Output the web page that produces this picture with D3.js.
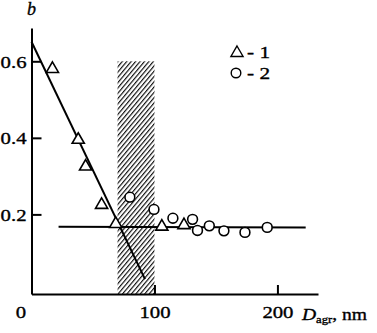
<!DOCTYPE html>
<html>
<head>
<meta charset="utf-8">
<script src="https://cdn.jsdelivr.net/npm/d3@7"></script>
<style>
  html, body { margin: 0; padding: 0; background: #fff; }
  svg { display: block; }
  text { font-family: "Liberation Serif", "Times New Roman", serif; fill: #000; stroke: #000; stroke-width: 0.35px; }
</style>
</head>
<body>
<svg id="chart" width="377" height="333"></svg>
<script>
// ---- data ----
const series1X = [17, 38, 44, 57, 68.5, 106, 124];
const series1Y = [0.58, 0.395, 0.325, 0.225, 0.175, 0.168, 0.172];
const series2X = [80, 99.6, 115, 131, 135, 144.6, 156.5, 173.6, 191.7];
const series2Y = [0.245, 0.213, 0.19, 0.187, 0.158, 0.17, 0.157, 0.153, 0.166];
const fit1X = [0, 92.3];
const fit1Y = [0.651, 0.031];
const fit2X = [22, 223];
const fit2Y = [0.168, 0.166];
const bandX = [70, 100];
const bandTop = 0.6;
const xTicks = [0, 100, 200];
const yTicks = [0.2, 0.4, 0.6];
const legendLabels = ["- 1", "- 2"];
const xDomain = [0, 233];
const yDomain = [-0.008, 0.687];

const STRETCH = 1.22;
const svg = d3.select("#chart");
const x = d3.scaleLinear().domain(xDomain).range([31.5, 318]);
const y = d3.scaleLinear().domain(yDomain).range([294, 28]);

function stretch(sel, f) {
  sel.each(function () {
    const w = this.getComputedTextLength();
    d3.select(this).attr("textLength", w * (f || STRETCH)).attr("lengthAdjust", "spacingAndGlyphs");
  });
}

// hatch pattern
const defs = svg.append("defs");
const pat = defs.append("pattern")
  .attr("id", "hatch").attr("patternUnits", "userSpaceOnUse")
  .attr("width", 3.4).attr("height", 3.4)
  .attr("patternTransform", "rotate(40)");
pat.append("line").attr("x1", 0.6).attr("y1", 0).attr("x2", 0.6).attr("y2", 3.4)
  .attr("stroke", "#000").attr("stroke-width", 1.1);

svg.append("rect")
  .attr("x", x(bandX[0])).attr("y", y(bandTop))
  .attr("width", x(bandX[1]) - x(bandX[0]))
  .attr("height", y(yDomain[0]) - y(bandTop))
  .attr("fill", "url(#hatch)");

// axes
const yAxis = d3.axisLeft(y).tickValues(yTicks).tickSizeInner(-10).tickSizeOuter(0)
  .tickPadding(5).tickFormat(d3.format(".1f"));
const gy = svg.append("g").attr("transform", `translate(${x(0)},0)`).call(yAxis);
const xAxis = d3.axisBottom(x).tickValues(xTicks).tickSizeInner(-9).tickSizeOuter(0)
  .tickPadding(12).tickFormat(d3.format("d"));
const gx = svg.append("g").attr("transform", `translate(0,${y(yDomain[0])})`).call(xAxis);

[gx, gy].forEach(g => {
  g.select(".domain").attr("stroke", "#000").attr("stroke-width", 2);
  g.selectAll(".tick line").attr("stroke", "#000").attr("stroke-width", 2);
  g.selectAll(".tick text").attr("font-size", 17).attr("font-family", "Liberation Serif");
});
gy.selectAll(".tick text").attr("dy", "0.36em");
gx.selectAll(".tick").filter(d => d === 0).select("line").remove();
gx.selectAll(".tick").filter(d => d === 0).select("text").attr("x", -11);
stretch(gx.selectAll(".tick text"));
stretch(gy.selectAll(".tick text"));

// axis titles
svg.append("text").attr("x", x(0)).attr("y", 15).attr("text-anchor", "middle")
  .attr("font-size", 18).attr("font-style", "italic").text("b");

const xt = svg.append("text").attr("x", 302).attr("y", 320).attr("font-size", 17);
xt.append("tspan").attr("font-style", "italic").text("D");
xt.append("tspan").attr("font-size", 11).attr("dy", 3).text("agr");
xt.append("tspan").attr("dy", -3).text(", nm");
stretch(xt, 1.15);

// fit lines
const line = d3.line().x(d => x(d[0])).y(d => y(d[1]));
svg.append("path").datum(d3.zip(fit1X, fit1Y)).attr("d", line)
  .attr("fill", "none").attr("stroke", "#000").attr("stroke-width", 2);
svg.append("path").datum(d3.zip(fit2X, fit2Y)).attr("d", line)
  .attr("fill", "none").attr("stroke", "#000").attr("stroke-width", 2);

// markers
const tri = d3.symbol().type(d3.symbolTriangle).size(64);
svg.append("g").selectAll("path").data(d3.zip(series1X, series1Y)).join("path")
  .attr("d", tri).attr("transform", d => `translate(${x(d[0])},${y(d[1])})`)
  .attr("fill", "#fff").attr("stroke", "#000").attr("stroke-width", 1.6);
svg.append("g").selectAll("circle").data(d3.zip(series2X, series2Y)).join("circle")
  .attr("cx", d => x(d[0])).attr("cy", d => y(d[1])).attr("r", 4.9)
  .attr("fill", "#fff").attr("stroke", "#000").attr("stroke-width", 1.6);

// legend
const lg = svg.append("g").attr("transform", "translate(237,52)");
lg.append("path").attr("d", tri).attr("transform", "translate(0,1)")
  .attr("fill", "#fff").attr("stroke", "#000").attr("stroke-width", 1.4);
lg.append("circle").attr("cx", -1).attr("cy", 21).attr("r", 4.8)
  .attr("fill", "#fff").attr("stroke", "#000").attr("stroke-width", 1.4);
const lt = lg.selectAll("text").data(legendLabels).join("text")
  .attr("x", 10).attr("y", (d, i) => 6 + i * 21).attr("font-size", 17).text(d => d);
stretch(lt, 1.25);
</script>
</body>
</html>
